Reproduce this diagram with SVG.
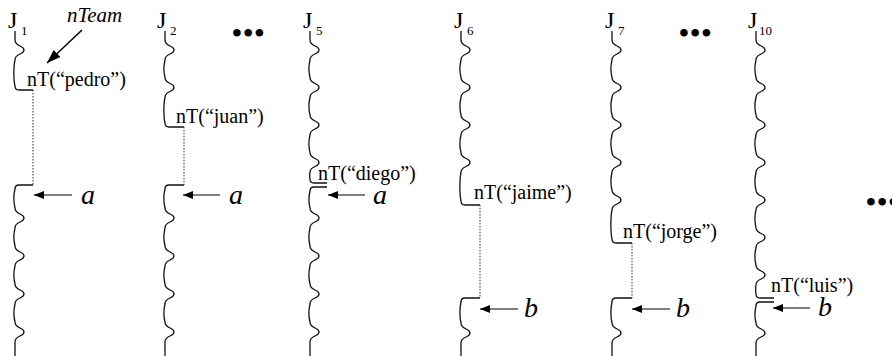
<svg xmlns="http://www.w3.org/2000/svg" width="892" height="356" viewBox="0 0 892 356">
<style>
.w{fill:none;stroke:#111;stroke-width:1.3}
.d{fill:none;stroke:#333;stroke-width:1;stroke-dasharray:1.5 1.5}
.ar{fill:none;stroke:#555;stroke-width:1.6;marker-end:url(#ah)}
.t{font-family:"Liberation Serif","Times New Roman",serif;fill:#000}
.j{font-size:24px}
.s{font-size:13px}
.n{font-size:20px}
.i{font-size:28px;font-style:italic}
.dots{font-family:"Liberation Serif",serif;font-size:28px;font-weight:bold;fill:#000}
</style>
<defs>
<marker id="ah" markerUnits="userSpaceOnUse" markerWidth="11" markerHeight="8" refX="10" refY="4" orient="auto">
<path d="M0,0 L10,4 L0,8 z" fill="#000"/>
</marker>
<marker id="ah2" markerUnits="userSpaceOnUse" markerWidth="15" markerHeight="10" refX="14" refY="5" orient="auto">
<path d="M0,0 L14,5 L0,10 z" fill="#000"/>
</marker>
</defs>

<g id="J1">
<text class="t j" x="8" y="28">J</text><text class="t s" x="21" y="35">1</text>
<text class="t n" x="27" y="86">nT(“pedro”)</text>
<path class="w" d="M15 31 v9 c0 7 9 5 9 10 c0 5 -9 3 -9 10 c-1.5 6 -1.5 20 0 26 q0 4 4 4 H33"/>
<path class="w" d="M33 185 H19 q-4 0 -4 4 c-1.5 6 -1.5 13 0 19 c0 7 9 5 9 10 c0 5 -9 3 -9 10 c-1.5 6 -1.5 12 0 18 c0 7 9 5 9 10 c0 5 -9 3 -9 10 c-1.5 6 -1.5 12 0 18 c0 7 9 5 9 10 c0 5 -9 3 -9 10 c-1.5 6 -1.5 12 0 18 c0 7 9 5 9 10 c0 5 -9 3 -9 10 v15"/>
<text class="t i" x="81" y="204">a</text>
</g>

<g id="nTeam">
<text class="t" x="67" y="22" font-size="21" font-style="italic">nTeam</text>
</g>

<g id="J2">
<text class="t j" x="157" y="28">J</text><text class="t s" x="170" y="35">2</text>
<text class="t n" x="176" y="123">nT(“juan”)</text>
<path class="w" d="M165 31 v9 c0 7 9 5 9 10 c0 5 -9 3 -9 10 c-1.5 6 -1.5 11.5 0 17.5 c0 7 9 5 9 10 c0 5 -9 3 -9 10 c-1.5 6 -1.5 19.5 0 25.5 q0 4 4 4 H184"/>
<path class="w" d="M184 185 H169 q-4 0 -4 4 c-1.5 6 -1.5 13 0 19 c0 7 9 5 9 10 c0 5 -9 3 -9 10 c-1.5 6 -1.5 12 0 18 c0 7 9 5 9 10 c0 5 -9 3 -9 10 c-1.5 6 -1.5 12 0 18 c0 7 9 5 9 10 c0 5 -9 3 -9 10 c-1.5 6 -1.5 12 0 18 c0 7 9 5 9 10 c0 5 -9 3 -9 10 v15"/>
<text class="t i" x="229" y="204">a</text>
</g>

<g id="dots1"><text class="dots" x="232" y="42" letter-spacing="1.5">•••</text></g>

<g id="J5">
<text class="t j" x="303" y="28">J</text><text class="t s" x="316" y="35">5</text>
<text class="t n" x="318" y="180">nT(“diego”)</text>
<path class="w" d="M310 31 v9 c0 7 9 5 9 10 c0 5 -9 3 -9 10 c-1.5 6 -1.5 11.5 0 17.5 c0 7 9 5 9 10 c0 5 -9 3 -9 10 c-1.5 6 -1.5 11.5 0 17.5 c0 7 9 5 9 10 c0 5 -9 3 -9 10 c-1.5 6 -1.5 11.5 0 17.5 c0 7 9 5 9 10 c0 5 -9 3 -9 10 c-0.5 2 -0.5 4.5 0 6.5 q0 4 4 4 H327"/>
<path class="w" d="M327 187 H314 q-4 0 -4 4 c-1.5 6 -1.5 11 0 17 c0 7 9 5 9 10 c0 5 -9 3 -9 10 c-1.5 6 -1.5 12 0 18 c0 7 9 5 9 10 c0 5 -9 3 -9 10 c-1.5 6 -1.5 12 0 18 c0 7 9 5 9 10 c0 5 -9 3 -9 10 c-1.5 6 -1.5 12 0 18 c0 7 9 5 9 10 c0 5 -9 3 -9 10 v15"/>
<text class="t i" x="373" y="204">a</text>
</g>

<g id="J6">
<text class="t j" x="454" y="28">J</text><text class="t s" x="467" y="35">6</text>
<text class="t n" x="474" y="199">nT(“jaime”)</text>
<path class="w" d="M461 31 v9 c0 7 9 5 9 10 c0 5 -9 3 -9 10 c-1.5 6 -1.5 11.5 0 17.5 c0 7 9 5 9 10 c0 5 -9 3 -9 10 c-1.5 6 -1.5 11.5 0 17.5 c0 7 9 5 9 10 c0 5 -9 3 -9 10 c-1.5 6 -1.5 11.5 0 17.5 c0 7 9 5 9 10 c0 5 -9 3 -9 10 c-1.5 7 -1.5 21.5 0 28.5 q0 4 4 4 H480"/>
<path class="w" d="M480 298 H465 q-4 0 -4 4 c-1.5 7 -1.5 14 0 21 c0 7 9 5 9 10 c0 5 -9 3 -9 10 v14"/>
<text class="t i" x="524" y="317">b</text>
</g>

<g id="J7">
<text class="t j" x="605" y="28">J</text><text class="t s" x="618" y="35">7</text>
<text class="t n" x="623" y="238">nT(“jorge”)</text>
<path class="w" d="M612 31 v9 c0 7 9 5 9 10 c0 5 -9 3 -9 10 c-1.5 6 -1.5 11.5 0 17.5 c0 7 9 5 9 10 c0 5 -9 3 -9 10 c-1.5 6 -1.5 11.5 0 17.5 c0 7 9 5 9 10 c0 5 -9 3 -9 10 c-1.5 6 -1.5 11.5 0 17.5 c0 7 9 5 9 10 c0 5 -9 3 -9 10 c-1.5 6 -1.5 11.5 0 17.5 c0 7 9 5 9 10 c0 5 -9 3 -9 10 c-1.5 7 -1.5 22 0 29 q0 4 4 4 H632"/>
<path class="w" d="M632 298 H616 q-4 0 -4 4 c-1.5 7 -1.5 14 0 21 c0 7 9 5 9 10 c0 5 -9 3 -9 10 v14"/>
<text class="t i" x="676" y="317">b</text>
</g>

<g id="dots2"><text class="dots" x="679" y="42" letter-spacing="1.5">•••</text></g>

<g id="J10">
<text class="t j" x="748" y="28">J</text><text class="t s" x="759" y="35">10</text>
<text class="t n" x="771" y="292">nT(“luis”)</text>
<path class="w" d="M756 31 v9 c0 7 9 5 9 10 c0 5 -9 3 -9 10 c-1.5 6 -1.5 11.5 0 17.5 c0 7 9 5 9 10 c0 5 -9 3 -9 10 c-1.5 6 -1.5 11.5 0 17.5 c0 7 9 5 9 10 c0 5 -9 3 -9 10 c-1.5 6 -1.5 11.5 0 17.5 c0 7 9 5 9 10 c0 5 -9 3 -9 10 c-1.5 6 -1.5 11.5 0 17.5 c0 7 9 5 9 10 c0 5 -9 3 -9 10 c-1.5 6 -1.5 11.5 0 17.5 c0 7 9 5 9 10 c0 5 -9 3 -9 10 c-1.5 6 -1.5 11.5 0 17.5 c0 7 9 5 9 10 c0 5 -9 3 -9 10 c-0.5 3 -0.5 6 0 9 q0 4 4 4 H774"/>
<path class="w" d="M774 302 H760 q-4 0 -4 4 c-1.5 6 -1.5 11 0 17 c0 7 9 5 9 10 c0 5 -9 3 -9 10 v14"/>
<text class="t i" x="818" y="316">b</text>
</g>

<g id="dots3"><text class="dots" x="866" y="211" letter-spacing="1.5">•••</text></g>

<g id="connectors">
<path d="M82 30 L47 63" fill="none" stroke="#000" stroke-width="1.5" marker-end="url(#ah2)"/>
<path class="d" d="M33 90 V185"/>
<path class="d" d="M184 127 V185"/>
<path class="d" d="M480 205 V298"/>
<path class="d" d="M632 243 V298"/>
<path class="ar" d="M72 195 H34"/>
<path class="ar" d="M220 195 H183"/>
<path class="ar" d="M365 195 H328"/>
<path class="ar" d="M518 309 H480"/>
<path class="ar" d="M670 309 H632"/>
<path class="ar" d="M810 308 H773"/>
</g>
</svg>
